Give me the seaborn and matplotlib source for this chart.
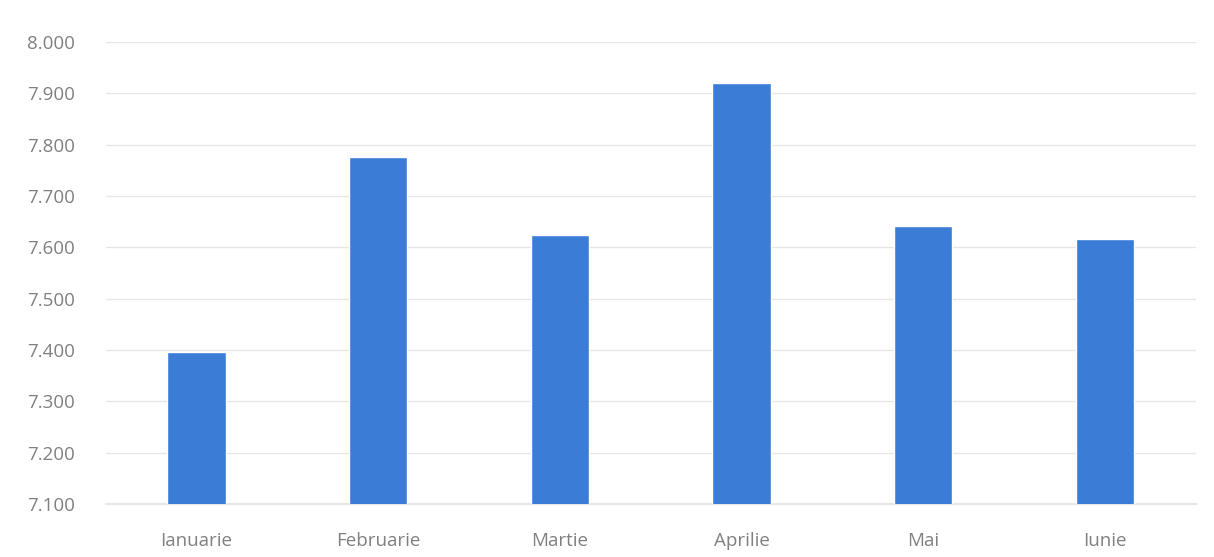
import matplotlib
matplotlib.use("Agg")
import matplotlib.pyplot as plt
import seaborn as sns
import pandas as pd
from matplotlib.ticker import FuncFormatter

months = ["Ianuarie", "Februarie", "Martie", "Aprilie", "Mai", "Iunie"]
values = [7396, 7776, 7624, 7920, 7642, 7616]
y_ticks = [7100, 7200, 7300, 7400, 7500, 7600, 7700, 7800, 7900, 8000]

df = pd.DataFrame({"Luna": months, "Valoare": values})

sns.set_style("white")
plt.rcParams['font.family'] = ['Open Sans', 'DejaVu Sans']

fig = plt.figure(figsize=(12.14, 5.57), dpi=100)
ax = fig.add_axes([0.087, 0.0952, 0.898, 0.8294])

sns.barplot(data=df, x="Luna", y="Valoare", color="#3b7dd6", saturation=1,
            width=0.32, ax=ax, zorder=3)

ax.set_ylim(7100, 8000)
ax.set_yticks(y_ticks)
ax.yaxis.set_major_formatter(FuncFormatter(lambda v, p: f"{int(v):,}".replace(",", ".")))
ax.grid(axis="y", color="#e6e6e6", linewidth=1, zorder=0)
ax.axhline(7100, color="#e6e6e6", linewidth=1.5, zorder=1, clip_on=False)
ax.set_xlabel("")
ax.set_ylabel("")
for s in ax.spines.values():
    s.set_visible(False)
ax.tick_params(axis="both", length=0, labelsize=13.5, labelcolor="#808080")
ax.tick_params(axis="y", pad=22)
ax.tick_params(axis="x", pad=20)

fig.savefig("out.png", dpi=100)
